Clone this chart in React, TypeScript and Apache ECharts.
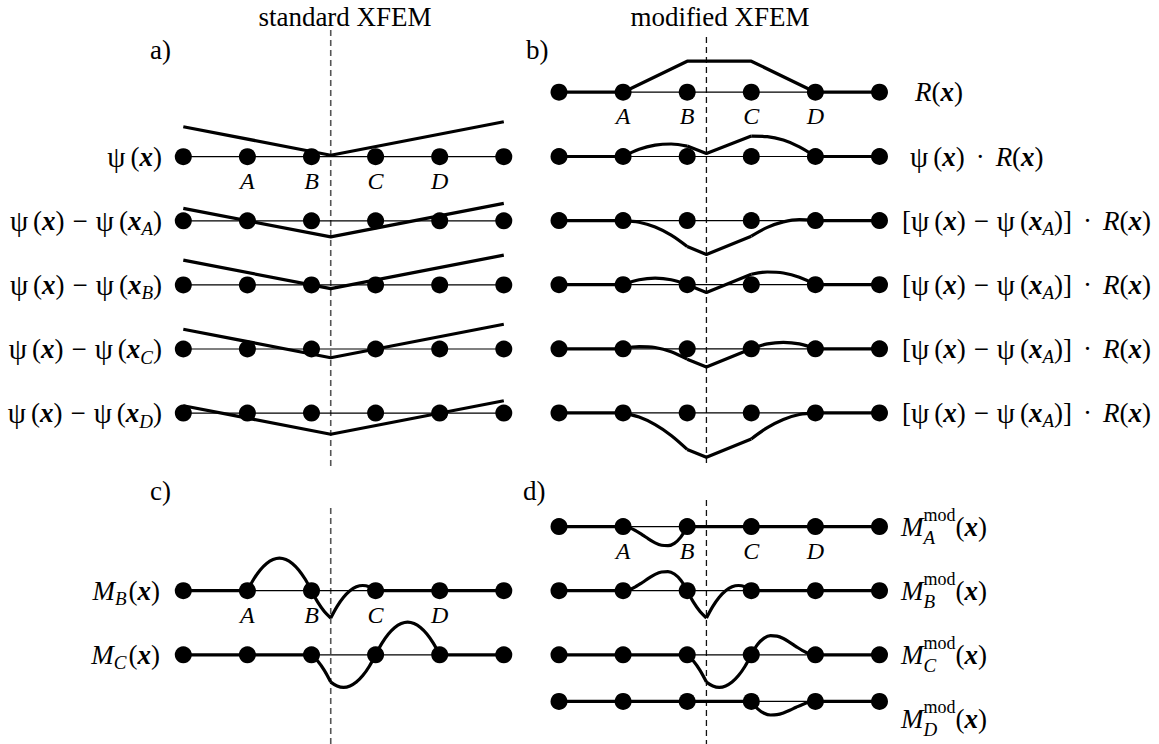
import React, { useEffect, useRef } from "react";
import * as echarts from "echarts";

type Pt = [number, number];
type Tok = [string, string, number?];

// ---------------- data ----------------
const nodes: number[] = [0, 1, 2, 3, 4, 5];
const nodeLetters: string[] = ["", "A", "B", "C", "D", ""];
const interfaceAt = 2.3;

// a) standard XFEM: enrichment functions (kink at the interface)
const aPsi: Pt[] = [[0, 30], [2.3, 1.5], [5, 35]];
const aPsiA: Pt[] = [[0, 12.4], [2.3, -16.1], [5, 17.4]];
const aPsiB: Pt[] = [[0, 24.8], [2.3, -3.7], [5, 29.8]];
const aPsiC: Pt[] = [[0, 19.8], [2.3, -8.7], [5, 24.8]];
const aPsiD: Pt[] = [[0, 7.4], [2.3, -21.1], [5, 12.4]];

// b) modified XFEM: ramp and ramp-weighted enrichments  [A-B curve, B-C straight, C-D curve]
const bRamp: Pt[] = [[0, 0], [1, 0], [2, 31], [3, 31], [4, 0], [5, 0]];
const bPsiR: Pt[][] = [
  [[1, 0], [1.25, 7.3], [1.5, 11.4], [1.75, 12.5], [2, 10.4]],
  [[2, 10.4], [2.3, 3.0], [3, 20.4]],
  [[3, 20.4], [3.25, 19.9], [3.5, 16.4], [3.75, 9.7], [4, 0]],
];
const bPsiAR: Pt[][] = [
  [[1, 0], [1.25, -1.6], [1.5, -6.5], [1.75, -14.6], [2, -26.0]],
  [[2, -26.0], [2.3, -33.8], [3, -15.6]],
  [[3, -15.6], [3.25, -6.8], [3.5, -1.3], [3.75, 1.0], [4, 0]],
];
const bPsiBR: Pt[][] = [
  [[1, 0], [1.25, 4.9], [1.5, 6.5], [1.75, 4.9], [2, 0]],
  [[2, 0], [2.3, -7.8], [3, 10.4]],
  [[3, 10.4], [3.25, 12.7], [3.5, 11.7], [3.75, 7.5], [4, 0]],
];
const bPsiCR: Pt[][] = [
  [[1, 0], [1.25, 2.3], [1.5, 1.3], [1.75, -2.9], [2, -10.4]],
  [[2, -10.4], [2.3, -18.2], [3, 0]],
  [[3, 0], [3.25, 4.9], [3.5, 6.5], [3.75, 4.9], [4, 0]],
];
const bPsiDR: Pt[][] = [
  [[1, 0], [1.25, -4.2], [1.5, -11.7], [1.75, -22.5], [2, -36.5]],
  [[2, -36.5], [2.3, -44.3], [3, -26.0]],
  [[3, -26.0], [3.25, -14.7], [3.5, -6.5], [3.75, -1.6], [4, 0]],
];

// c) standard blending shape functions
const cMB: Pt[][] = [
  [[1, 0], [1.1, 11.7], [1.2, 20.8], [1.3, 27.3], [1.4, 31.2], [1.5, 32.6], [1.6, 31.2], [1.7, 27.3], [1.8, 20.8], [1.9, 11.7], [2, 0]],
  [[2, 0], [2.1, -11.7], [2.2, -20.8], [2.3, -27.3]],
  [[2.3, -27.3], [2.4, -15.6], [2.5, -6.5], [2.6, 0], [2.7, 3.9], [2.8, 5.2], [2.9, 3.9], [3, 0]],
];
const cMC: Pt[][] = [
  [[2, 0], [2.1, -6.5], [2.2, -15.6], [2.3, -27.3]],
  [[2.3, -27.3], [2.4, -31.2], [2.5, -32.6], [2.6, -31.2], [2.7, -27.3], [2.8, -20.8], [2.9, -11.7], [3, 0]],
  [[3, 0], [3.1, 11.7], [3.2, 20.8], [3.3, 27.3], [3.4, 31.2], [3.5, 32.6], [3.6, 31.2], [3.7, 27.3], [3.8, 20.8], [3.9, 11.7], [4, 0]],
];

// d) modified shape functions
const dMA: Pt[][] = [
  [[1, 0], [1.1, -1.2], [1.2, -4.2], [1.3, -8.2], [1.4, -12.5], [1.5, -16.3], [1.6, -18.7], [1.7, -19.1], [1.8, -16.7], [1.9, -10.5], [2, 0]],
];
const dMB: Pt[][] = [
  [[1, 0], [1.1, 1.2], [1.2, 4.2], [1.3, 8.2], [1.4, 12.5], [1.5, 16.3], [1.6, 18.7], [1.7, 19.1], [1.8, 16.7], [1.9, 10.5], [2, 0]],
  [[2, 0], [2.1, -11.7], [2.2, -20.8], [2.3, -27.3]],
  [[2.3, -27.3], [2.4, -15.6], [2.5, -6.5], [2.6, 0], [2.7, 3.9], [2.8, 5.2], [2.9, 3.9], [3, 0]],
];
const dMC: Pt[][] = [
  [[2, 0], [2.1, -6.5], [2.2, -15.6], [2.3, -27.3]],
  [[2.3, -27.3], [2.4, -31.2], [2.5, -32.6], [2.6, -31.2], [2.7, -27.3], [2.8, -20.8], [2.9, -11.7], [3, 0]],
  [[3, 0], [3.1, 10.5], [3.2, 16.7], [3.3, 19.1], [3.4, 18.7], [3.5, 16.3], [3.6, 12.5], [3.7, 8.2], [3.8, 4.2], [3.9, 1.2], [4, 0]],
];
const dMD: Pt[][] = [
  [[3, 0], [3.1, -10.5], [3.2, -16.7], [3.3, -19.1], [3.4, -18.7], [3.5, -16.3], [3.6, -12.5], [3.7, -8.2], [3.8, -4.2], [3.9, -1.2], [4, 0]],
];

// thick flat parts of each shape function (node ranges)
const flatsB: Pt[] = [[0, 1], [4, 5]];
const flatsCB: Pt[] = [[0, 1], [3, 5]];
const flatsCC: Pt[] = [[0, 2], [4, 5]];
const flatsDA: Pt[] = [[0, 1], [2, 5]];
const flatsDB: Pt[] = [[0, 1], [3, 5]];
const flatsDC: Pt[] = [[0, 2], [4, 5]];
const flatsDD: Pt[] = [[0, 3], [4, 5]];

// label texts
const psi = (sub?: string): Tok[] => [["ψ", "g"], ["", "gap", 5], ["(", "n"], ["x", "bi"], ...(sub ? ([[sub, "sub"]] as Tok[]) : []), [")", "n"]];
const minus: Tok[] = [["", "gap", 8], ["−", "n"], ["", "gap", 8]];
const dot: Tok[] = [["", "gap", 11], ["·", "n"], ["", "gap", 11]];
const Rx: Tok[] = [["R", "i"], ["(", "n"], ["x", "bi"], [")", "n"]];
const bracketA: Tok[] = [["[", "n"], ...psi(), ...minus, ...psi("A"), ["]", "n"], ...dot, ...Rx];
const mStd = (s: string): Tok[] => [["M", "i"], [s, "sub"], ["", "gap", 2], ["(", "n"], ["x", "bi"], [")", "n"]];
const mMod = (s: string): Tok[] => [["M", "i"], ["mod|" + s, "supsub"], ["(", "n"], ["x", "bi"], [")", "n"]];

const labelsA: Tok[][] = [psi(), [...psi(), ...minus, ...psi("A")], [...psi(), ...minus, ...psi("B")], [...psi(), ...minus, ...psi("C")], [...psi(), ...minus, ...psi("D")]];
const labelsB: Tok[][] = [Rx, [...psi(), ...dot, ...Rx], bracketA, bracketA, bracketA, bracketA];
const labelsC: Tok[][] = [mStd("B"), mStd("C")];
const labelsD: Tok[][] = [mMod("A"), mMod("B"), mMod("C"), mMod("D")];

const titles = ["standard XFEM", "modified XFEM"];
const panelTags = ["a)", "b)", "c)", "d)"];

// ---------------- layout ----------------
const SP = 64.1;
const LX = 183.3;
const RX = 559;
const rowsA = [156.7, 220.8, 284.9, 349.0, 413.1];
const rowsB = [92.2, 156.5, 220.6, 284.7, 348.8, 412.9];
const rowsC = [590.7, 654.8];
const rowsD = [526.6, 590.7, 654.8, 718.9];
const FONT = "Liberation Serif";
const BASE = 27;

type F = { style: string; weight: string; size: number; dy: number };
function fontOf(kind: string): F {
  if (kind === "i") return { style: "italic", weight: "normal", size: BASE, dy: 0 };
  if (kind === "bi") return { style: "italic", weight: "bold", size: BASE, dy: 0 };
  if (kind === "g") return { style: "normal", weight: "normal", size: 29, dy: 0 };
  if (kind === "sub") return { style: "italic", weight: "normal", size: 19, dy: 8 };
  if (kind === "sup") return { style: "normal", weight: "normal", size: 18, dy: -12 };
  if (kind === "low") return { style: "italic", weight: "normal", size: 19, dy: 11 };
  return { style: "normal", weight: "normal", size: BASE, dy: 0 };
}

let mctx: CanvasRenderingContext2D | null = null;
function textWidth(text: string, f: F): number {
  if (!mctx) mctx = document.createElement("canvas").getContext("2d");
  if (!mctx) return text.length * f.size * 0.5;
  mctx.font = `${f.style} ${f.weight} ${f.size}px "${FONT}"`;
  return mctx.measureText(text).width;
}

function textEl(text: string, f: F, x: number, y: number, align = "left"): any {
  return {
    type: "text",
    x,
    y,
    z: 10,
    silent: true,
    style: {
      text,
      fontFamily: FONT,
      fontSize: f.size,
      fontStyle: f.style,
      fontWeight: f.weight,
      fill: "#000",
      textAlign: align,
      textVerticalAlign: "middle",
    },
  };
}

function buildLabel(tokens: Tok[], x: number, y: number, align: "left" | "right"): any[] {
  const pieces: { text: string; f: F; x: number }[] = [];
  let cx = 0;
  for (const t of tokens) {
    if (t[1] === "gap") {
      cx += t[2] || 0;
      continue;
    }
    if (t[1] === "supsub") {
      const [sup, sub] = t[0].split("|");
      const fs = fontOf("sup");
      const fb = fontOf("low");
      pieces.push({ text: sup, f: fs, x: cx });
      pieces.push({ text: sub, f: fb, x: cx });
      cx += Math.max(textWidth(sup, fs), textWidth(sub, fb));
      continue;
    }
    const f = fontOf(t[1]);
    pieces.push({ text: t[0], f, x: cx });
    cx += textWidth(t[0], f);
  }
  const start = align === "left" ? x : x - cx;
  return pieces.map((p) => textEl(p.text, p.f, start + p.x, y + p.f.dy));
}

function buildOption() {
  const grids: any[] = [];
  const xAxes: any[] = [];
  const yAxes: any[] = [];
  const series: any[] = [];
  const elements: any[] = [];

  function addRow(x0: number, yb: number, curves: { pts: Pt[]; smooth: boolean }[], flats: Pt[], letters: boolean) {
    const gi = grids.length;
    grids.push({ left: x0, top: yb - 60, width: 5 * SP, height: 120 });
    xAxes.push({ type: "value", gridIndex: gi, min: 0, max: 5, show: false });
    yAxes.push({ type: "value", gridIndex: gi, min: -60, max: 60, show: false });
    const common = { xAxisIndex: gi, yAxisIndex: gi, silent: true, clip: false, symbol: "none", showSymbol: false };
    series.push({ ...common, type: "line", z: 2, data: nodes.map((n) => [n, 0]), lineStyle: { color: "#000", width: 1.2, opacity: 1 } });
    for (const fl of flats) {
      series.push({ ...common, type: "line", z: 3, data: [[fl[0], 0], [fl[1], 0]], lineStyle: { color: "#000", width: 3.2, opacity: 1 } });
    }
    for (const c of curves) {
      series.push({ ...common, type: "line", z: 3, smooth: c.smooth ? 0.35 : false, data: c.pts, lineStyle: { color: "#000", width: 3.2, opacity: 1 } });
    }
    series.push({
      type: "scatter",
      xAxisIndex: gi,
      yAxisIndex: gi,
      silent: true,
      clip: false,
      z: 4,
      symbol: "circle",
      symbolSize: 17,
      itemStyle: { color: "#000", opacity: 1 },
      data: nodes.map((n) => [n, 0]),
      label: letters
        ? {
            show: true,
            position: "inside",
            offset: [0, 24],
            formatter: (p: any) => nodeLetters[p.dataIndex],
            fontFamily: FONT,
            fontStyle: "italic",
            fontSize: 24,
            color: "#000",
            opacity: 1,
          }
        : { show: false },
    });
  }

  // panel a
  const aCurves = [aPsi, aPsiA, aPsiB, aPsiC, aPsiD];
  rowsA.forEach((y, i) => {
    addRow(LX, y, [{ pts: aCurves[i], smooth: false }], [], i === 0);
    elements.push(...buildLabel(labelsA[i], 162, y, "right"));
  });

  // panel b
  const bRows = [bPsiR, bPsiAR, bPsiBR, bPsiCR, bPsiDR];
  rowsB.forEach((y, i) => {
    if (i === 0) {
      addRow(RX, y, [{ pts: bRamp, smooth: false }], [], true);
      elements.push(...buildLabel(labelsB[i], 915, y, "left"));
    } else {
      const r = bRows[i - 1];
      addRow(RX, y, [{ pts: r[0], smooth: true }, { pts: r[1], smooth: false }, { pts: r[2], smooth: true }], flatsB, false);
      elements.push(...buildLabel(labelsB[i], i === 1 ? 910 : 902, y, "left"));
    }
  });

  // panel c
  const cRows = [cMB, cMC];
  const cFlats = [flatsCB, flatsCC];
  rowsC.forEach((y, i) => {
    addRow(LX, y, cRows[i].map((p) => ({ pts: p, smooth: true })), cFlats[i], i === 0);
    elements.push(...buildLabel(labelsC[i], 160, y, "right"));
  });

  // panel d
  const dRows = [dMA, dMB, dMC, dMD];
  const dFlats = [flatsDA, flatsDB, flatsDC, flatsDD];
  rowsD.forEach((y, i) => {
    addRow(RX, y, dRows[i].map((p) => ({ pts: p, smooth: true })), dFlats[i], i === 0);
    elements.push(...buildLabel(labelsD[i], 901, y, "left"));
  });

  // interface (dashed) lines
  const lx = LX + interfaceAt * SP;
  const rx = RX + interfaceAt * SP;
  const dashL = { stroke: "#555", lineWidth: 1.6, lineDash: [6, 4] };
  const dashR = { stroke: "#111", lineWidth: 1.3, lineDash: [6, 4] };
  elements.push({ type: "line", z: 0, silent: true, shape: { x1: lx, y1: 30, x2: lx, y2: 466 }, style: dashL });
  elements.push({ type: "line", z: 0, silent: true, shape: { x1: lx, y1: 508, x2: lx, y2: 744 }, style: dashL });
  elements.push({ type: "line", z: 0, silent: true, shape: { x1: rx, y1: 37, x2: rx, y2: 465 }, style: dashR });
  elements.push({ type: "line", z: 0, silent: true, shape: { x1: rx, y1: 500, x2: rx, y2: 744 }, style: dashR });

  // titles and panel tags
  const tf = fontOf("n");
  elements.push(textEl(titles[0], tf, 345, 17, "center"));
  elements.push(textEl(titles[1], tf, 720, 17, "center"));
  elements.push(textEl(panelTags[0], tf, 150, 50));
  elements.push(textEl(panelTags[1], tf, 526, 50));
  elements.push(textEl(panelTags[2], tf, 150, 491));
  elements.push(textEl(panelTags[3], tf, 523, 491));

  return {
    animation: false,
    backgroundColor: "#fff",
    grid: grids,
    xAxis: xAxes,
    yAxis: yAxes,
    series,
    graphic: { elements },
  };
}

export default function App() {
  const ref = useRef<HTMLDivElement>(null);
  useEffect(() => {
    if (!ref.current) return;
    const chart = echarts.init(ref.current, null, { renderer: "svg" });
    chart.setOption(buildOption() as any);
    return () => chart.dispose();
  }, []);
  return (
    <div
      ref={ref}
      style={{ position: "absolute", left: 0, top: 0, width: 1159, height: 744, background: "#fff" }}
    />
  );
}
